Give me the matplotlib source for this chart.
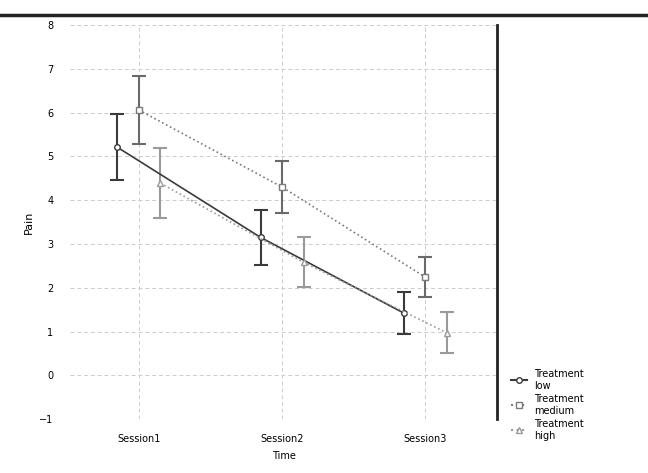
import matplotlib.pyplot as plt
import numpy as np
from matplotlib.lines import Line2D

# category labels and group names
visits = ["Session1", "Session2", "Session3"]
groups = ["Treatment\nlow", "Treatment\nmedium", "Treatment\nhigh"]

# group means and 95% CI half widths per visit
low_mean = [5.21, 3.15, 1.42]
low_ci = [0.75, 0.63, 0.48]
med_mean = [6.06, 4.30, 2.24]
med_ci = [0.77, 0.60, 0.46]
high_mean = [4.39, 2.58, 0.97]
high_ci = [0.80, 0.57, 0.47]

fig = plt.figure(figsize=(6.48, 4.73), dpi=100)
ax = fig.add_axes([0.108, 0.114, 0.659, 0.833])

x = np.arange(len(visits))
offs = [-0.15, 0.0, 0.15]
means = [low_mean, med_mean, high_mean]
cis = [low_ci, med_ci, high_ci]
line_styles = ["-", ":", ":"]
colors = ["#3a3a3a", "#7a7a7a", "#9a9a9a"]
err_colors = ["#3a3a3a", "#6a6a6a", "#9a9a9a"]
markers = ["o", "s", "^"]

for i in range(3):
    xs = x + offs[i]
    ax.plot(xs, means[i], linestyle=line_styles[i], color=colors[i], lw=1.2,
            marker=markers[i], ms=4, mfc="white", mec=colors[i], zorder=3)
    ax.errorbar(xs, means[i], yerr=cis[i], fmt="none", ecolor=err_colors[i],
                elinewidth=1.5, capsize=5, capthick=1.5, zorder=2)

ax.set_xlim(-0.48, 2.5)
ax.set_ylim(-1, 8)
ax.set_yticks(range(-1, 9))
ax.set_xticks(x)
ax.set_xticklabels(visits, fontsize=7)
ax.tick_params(axis="y", labelsize=7, length=0, pad=12)
ax.tick_params(axis="x", length=0, pad=11)
ax.grid(True, linestyle=(0, (4, 3)), color="#cccccc", lw=0.7)
ax.set_axisbelow(True)
ax.set_xlabel("Time", fontsize=7, labelpad=5)
ax.set_ylabel("Pain", fontsize=8)

for s in ["left", "top", "bottom"]:
    ax.spines[s].set_visible(False)
ax.spines["right"].set_linewidth(2)
ax.spines["right"].set_color("#222222")

# thick line along the top of the figure
fig.add_artist(Line2D([0, 1], [0.968, 0.968], color="#222222", lw=2.5,
                      transform=fig.transFigure))

handles = [Line2D([], [], linestyle=line_styles[i], color=colors[i],
                  marker=markers[i], ms=4, mfc="white", mec=colors[i])
           for i in range(3)]
fig.legend(handles, groups, loc="lower left", bbox_to_anchor=(0.775, 0.05),
           frameon=False, fontsize=7, handlelength=1.6, labelspacing=0.35)

fig.savefig("out.png", dpi=100)
